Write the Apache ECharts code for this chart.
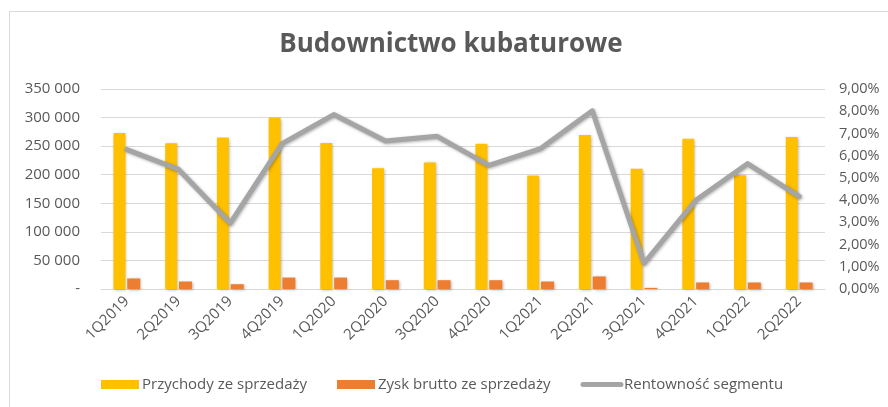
<!DOCTYPE html>
<html>
<head>
<meta charset="utf-8">
<script src="https://cdn.jsdelivr.net/npm/echarts@6/dist/echarts.min.js"></script>
<style>
  html, body { margin: 0; padding: 0; background: #fff; }
  #wrap { position: relative; width: 888px; height: 407px; overflow: hidden; }
  #frame { position: absolute; left: 9px; top: 11px; width: 900px; height: 420px; border: 1px solid #D9D9D9; box-sizing: border-box; }
  #chart { position: absolute; left: 0; top: 0; width: 888px; height: 407px; }
</style>
</head>
<body>
<div id="wrap">
  <div id="frame"></div>
  <div id="chart"></div>
</div>
<script>
  // kwartały
  var categories = ['1Q2019', '2Q2019', '3Q2019', '4Q2019', '1Q2020', '2Q2020', '3Q2020',
                    '4Q2020', '1Q2021', '2Q2021', '3Q2021', '4Q2021', '1Q2022', '2Q2022'];
  // Przychody ze sprzedaży
  var przychody = [273000, 255000, 265000, 300000, 255500, 211500, 221500,
                   254000, 198500, 269500, 210500, 263000, 199000, 266000];
  // Zysk brutto ze sprzedaży
  var zysk = [18400, 13100, 8400, 20100, 20100, 15400, 15400,
              15400, 13100, 21900, 2000, 11400, 11400, 11400];
  // Rentowność segmentu (%)
  var rentownosc = [6.27, 5.38, 2.96, 6.54, 7.85, 6.66, 6.87,
                    5.56, 6.32, 8.02, 1.16, 3.99, 5.64, 4.17];

  var leftTicks = { min: 0, max: 350000, interval: 50000 };
  var rightTicks = { min: 0, max: 9, interval: 1 };

  var font = 'Open Sans';
  var textColor = '#595959';

  var myChart = echarts.init(document.getElementById('chart'));
  var option = {
    animation: false,
    textStyle: { fontFamily: font },
    title: {
      text: 'Budownictwo kubaturowe',
      left: 446,
      top: 27,
      textAlign: 'center',
      textStyle: { fontFamily: font, fontSize: 26, fontWeight: 'bold', color: textColor }
    },
    legend: {
      bottom: 10,
      left: 96,
      itemWidth: 38,
      itemHeight: 9,
      itemGap: 30,
      textStyle: { fontFamily: font, fontSize: 15, color: textColor, padding: [0, 0, 0, -2] },
      data: [
        { name: 'Przychody ze sprzedaży', icon: 'rect' },
        { name: 'Zysk brutto ze sprzedaży', icon: 'rect' },
        {
          name: 'Rentowność segmentu',
          itemStyle: { opacity: 0 },
          lineStyle: { width: 5, cap: 'round', color: '#A5A5A5' }
        }
      ]
    },
    grid: { left: 101, right: 63, top: 89, bottom: 118 },
    xAxis: {
      type: 'category',
      data: categories,
      axisTick: { show: false },
      axisLine: { lineStyle: { color: '#D9D9D9', width: 1 } },
      axisLabel: { rotate: 45, fontSize: 15, color: textColor, fontFamily: font, margin: 10, interval: 0 }
    },
    yAxis: [
      {
        type: 'value',
        min: leftTicks.min, max: leftTicks.max, interval: leftTicks.interval,
        axisLine: { show: false },
        axisTick: { show: false },
        splitLine: { lineStyle: { color: '#D9D9D9', width: 1 } },
        axisLabel: {
          fontSize: 15, color: textColor, fontFamily: font, margin: 21,
          formatter: function (v) {
            if (v === 0) return '-';
            return String(v).replace(/\B(?=(\d{3})+(?!\d))/g, ' ');
          }
        }
      },
      {
        type: 'value',
        min: rightTicks.min, max: rightTicks.max, interval: rightTicks.interval,
        axisLine: { show: false },
        axisTick: { show: false },
        splitLine: { show: false },
        axisLabel: {
          fontSize: 14.5, color: textColor, fontFamily: font, margin: 14,
          formatter: function (v) { return v.toFixed(2).replace('.', ',') + '%'; }
        }
      }
    ],
    series: [
      {
        name: 'Przychody ze sprzedaży',
        type: 'bar',
        data: przychody,
        barWidth: 12,
        barGap: '15%',
        itemStyle: { color: '#FFC000', shadowBlur: 3, shadowColor: 'rgba(0,0,0,0.3)', shadowOffsetX: 1, shadowOffsetY: 1 }
      },
      {
        name: 'Zysk brutto ze sprzedaży',
        type: 'bar',
        data: zysk,
        barWidth: 13,
        itemStyle: { color: '#ED7D31', shadowBlur: 3, shadowColor: 'rgba(0,0,0,0.3)', shadowOffsetX: 1, shadowOffsetY: 1 }
      },
      {
        name: 'Rentowność segmentu',
        type: 'line',
        yAxisIndex: 1,
        data: rentownosc,
        symbol: 'none',
        itemStyle: { color: '#A5A5A5' },
        lineStyle: { color: '#A5A5A5', width: 5, cap: 'round', join: 'round',
                     shadowBlur: 3, shadowColor: 'rgba(0,0,0,0.3)', shadowOffsetX: 1, shadowOffsetY: 1 }
      }
    ]
  };
  myChart.setOption(option);
</script>
</body>
</html>
